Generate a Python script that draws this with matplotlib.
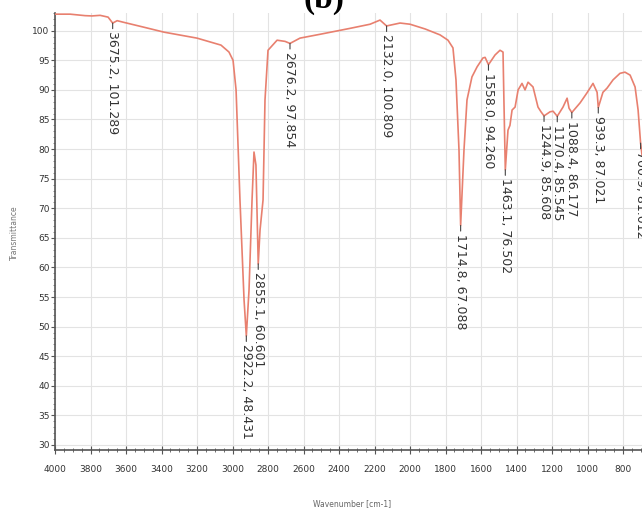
import matplotlib
matplotlib.use("Agg")
import matplotlib.pyplot as plt
from matplotlib.ticker import MultipleLocator

# IR spectrum (b)
wavenumber = [4000, 3915, 3831, 3792, 3746, 3701, 3675.2, 3650, 3617, 3500,
              3386, 3200, 3065, 3020, 2997, 2980, 2958, 2935, 2922.2, 2907,
              2890, 2879, 2868, 2855.1, 2845, 2828, 2817, 2800, 2749, 2704,
              2676.2, 2620, 2507, 2338, 2225, 2169, 2132.0, 2056, 2000, 1915,
              1831, 1786, 1758, 1741, 1724, 1714.8, 1696, 1679, 1651, 1622,
              1589, 1577, 1558.0, 1521, 1493, 1476, 1471, 1463.1, 1448, 1437,
              1425, 1408, 1391, 1369, 1352, 1335, 1307, 1279, 1262, 1244.9,
              1211, 1194, 1170.4, 1138, 1115, 1104, 1088.4, 1042, 1003, 969,
              946, 939.3, 913, 890, 856, 817, 789, 760, 732, 715,
              700.9, 693]
transmittance = [102.8, 102.8, 102.55, 102.5, 102.6, 102.3, 101.289, 101.7, 101.45, 100.6,
                 99.76, 98.75, 97.57, 96.4, 95.0, 90.0, 71.4, 54.5, 48.431, 56.2,
                 71.4, 79.5, 77.3, 60.601, 66.3, 71.4, 88.3, 96.7, 98.4, 98.2,
                 97.854, 98.75, 99.4, 100.4, 101.1, 101.8, 100.809, 101.3, 101.1, 100.3,
                 99.3, 98.4, 97.1, 91.7, 79.8, 67.088, 79.8, 88.3, 92.2, 93.9,
                 95.4, 95.5, 94.260, 95.9, 96.7, 96.4, 88.3, 76.502, 83.2, 84.0,
                 86.6, 87.1, 90.0, 91.1, 90.0, 91.3, 90.5, 87.1, 86.3, 85.608,
                 86.3, 86.4, 85.545, 87.1, 88.6, 86.9, 86.177, 87.8, 89.5, 91.1,
                 89.6, 87.021, 89.6, 90.3, 91.7, 92.8, 93.0, 92.5, 90.5, 86.6,
                 81.012, 79.0]

peak_wn = [3675.2, 2922.2, 2855.1, 2676.2, 2132.0, 1714.8, 1558.0,
           1463.1, 1244.9, 1170.4, 1088.4, 939.3, 700.9]
peak_t = [101.289, 48.431, 60.601, 97.854, 100.809, 67.088, 94.260,
          76.502, 85.608, 85.545, 86.177, 87.021, 81.012]

fig = plt.figure(figsize=(6.42, 5.11), dpi=100)
ax = fig.add_axes([0.0857, 0.1194, 0.9143, 0.8552])

ax.plot(wavenumber, transmittance, color="#e8806f", lw=1.2, zorder=3)

for w, t in zip(peak_wn, peak_t):
    ax.annotate(f"{w:.1f}, {t:.3f}", xy=(w, t), xytext=(0, -6),
                textcoords="offset points", rotation=270,
                ha="center", va="top", fontsize=9, color="#333333",
                arrowprops=dict(arrowstyle="-", color="#444444", lw=0.8,
                                shrinkA=0, shrinkB=0),
                zorder=4)

ax.set_xlim(4000, 693)
ax.set_ylim(29.15, 103)

ax.xaxis.set_major_locator(MultipleLocator(200))
ax.xaxis.set_minor_locator(MultipleLocator(50))
ax.yaxis.set_major_locator(MultipleLocator(5))
ax.yaxis.set_minor_locator(MultipleLocator(1))

ax.grid(True, which="major", color="#e3e3e3", lw=0.8)
ax.set_axisbelow(True)

ax.tick_params(axis="x", which="major", direction="inout", length=6,
               labelsize=6.5, labelcolor="#333333", color="#555555", pad=8)
ax.tick_params(axis="x", which="minor", direction="inout", length=3, color="#555555")
ax.tick_params(axis="y", which="major", direction="out", length=3,
               labelsize=6.5, labelcolor="#333333", color="#555555", pad=1)
ax.tick_params(axis="y", which="minor", direction="out", length=1.5, color="#777777")

ax.spines["top"].set_visible(False)
ax.spines["right"].set_visible(False)
ax.spines["left"].set_color("#555555")
ax.spines["bottom"].set_color("#555555")
ax.spines["left"].set_linewidth(1.2)
ax.spines["bottom"].set_linewidth(1.2)

fig.canvas.draw()
xl = ax.get_xticklabels()
if xl:
    xl[0].set_ha("left")

fig.text(0.023, 0.545, "Transmittance", rotation=90, fontsize=5.5,
         color="#777777", ha="center", va="center")
fig.text(0.548, 0.014, "Wavenumber [cm-1]", fontsize=5.5,
         color="#666666", ha="center", va="center")
fig.text(0.505, 0.984, "(b)", fontsize=24, fontweight="bold",
         family="Liberation Serif", ha="center", va="baseline")

fig.savefig("out.png", dpi=100)
